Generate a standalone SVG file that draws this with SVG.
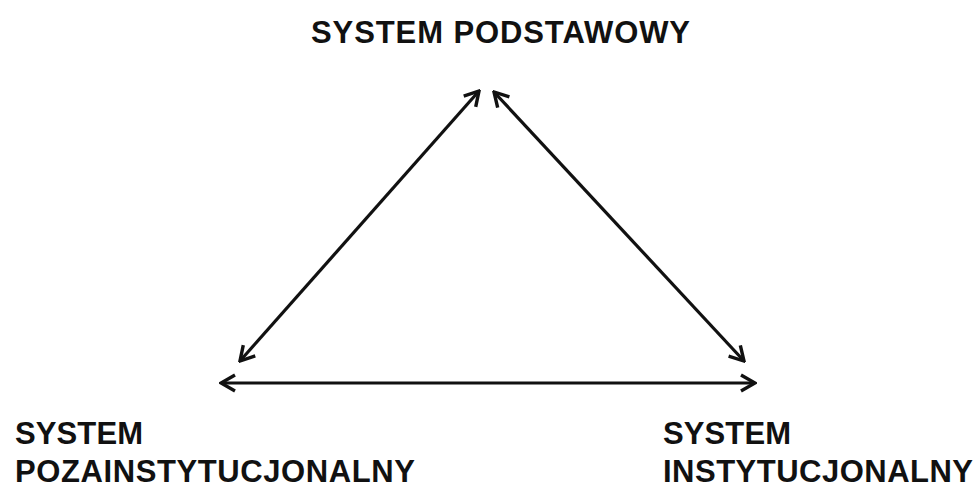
<svg xmlns="http://www.w3.org/2000/svg" width="980" height="484" viewBox="0 0 980 484">
<style>
.lbl{font-family:"Liberation Sans",Arial,sans-serif;font-weight:bold;font-size:31px;fill:#111}
.conn{stroke:#111;stroke-width:3.2;fill:none}
</style>
<defs>
<marker id="arr" viewBox="-18 -10 20 20" markerWidth="20" markerHeight="20" refX="0" refY="0" orient="auto-start-reverse" markerUnits="userSpaceOnUse">
<path d="M -14 -8 L 0 0 L -14 8" stroke="#111" stroke-width="3.4" fill="none" stroke-linejoin="miter"/>
</marker>
</defs>
<rect width="980" height="484" fill="#fff"/>
<g id="connectors">
<line class="conn" x1="240" y1="361" x2="479" y2="91" marker-start="url(#arr)" marker-end="url(#arr)"/>
<line class="conn" x1="494" y1="92" x2="744" y2="361" marker-start="url(#arr)" marker-end="url(#arr)"/>
<line class="conn" x1="221" y1="383" x2="755" y2="383" marker-start="url(#arr)" marker-end="url(#arr)"/>
</g>
<g id="node-podstawowy">
<text class="lbl" x="311" y="43" textLength="379" lengthAdjust="spacing">SYSTEM PODSTAWOWY</text>
</g>
<g id="node-pozainstytucjonalny">
<text class="lbl" x="15" y="444" textLength="128" lengthAdjust="spacing">SYSTEM</text>
<text class="lbl" x="15" y="482" textLength="400" lengthAdjust="spacing">POZAINSTYTUCJONALNY</text>
</g>
<g id="node-instytucjonalny">
<text class="lbl" x="663" y="444" textLength="128" lengthAdjust="spacing">SYSTEM</text>
<text class="lbl" x="663" y="482" textLength="310" lengthAdjust="spacing">INSTYTUCJONALNY</text>
</g>
</svg>
